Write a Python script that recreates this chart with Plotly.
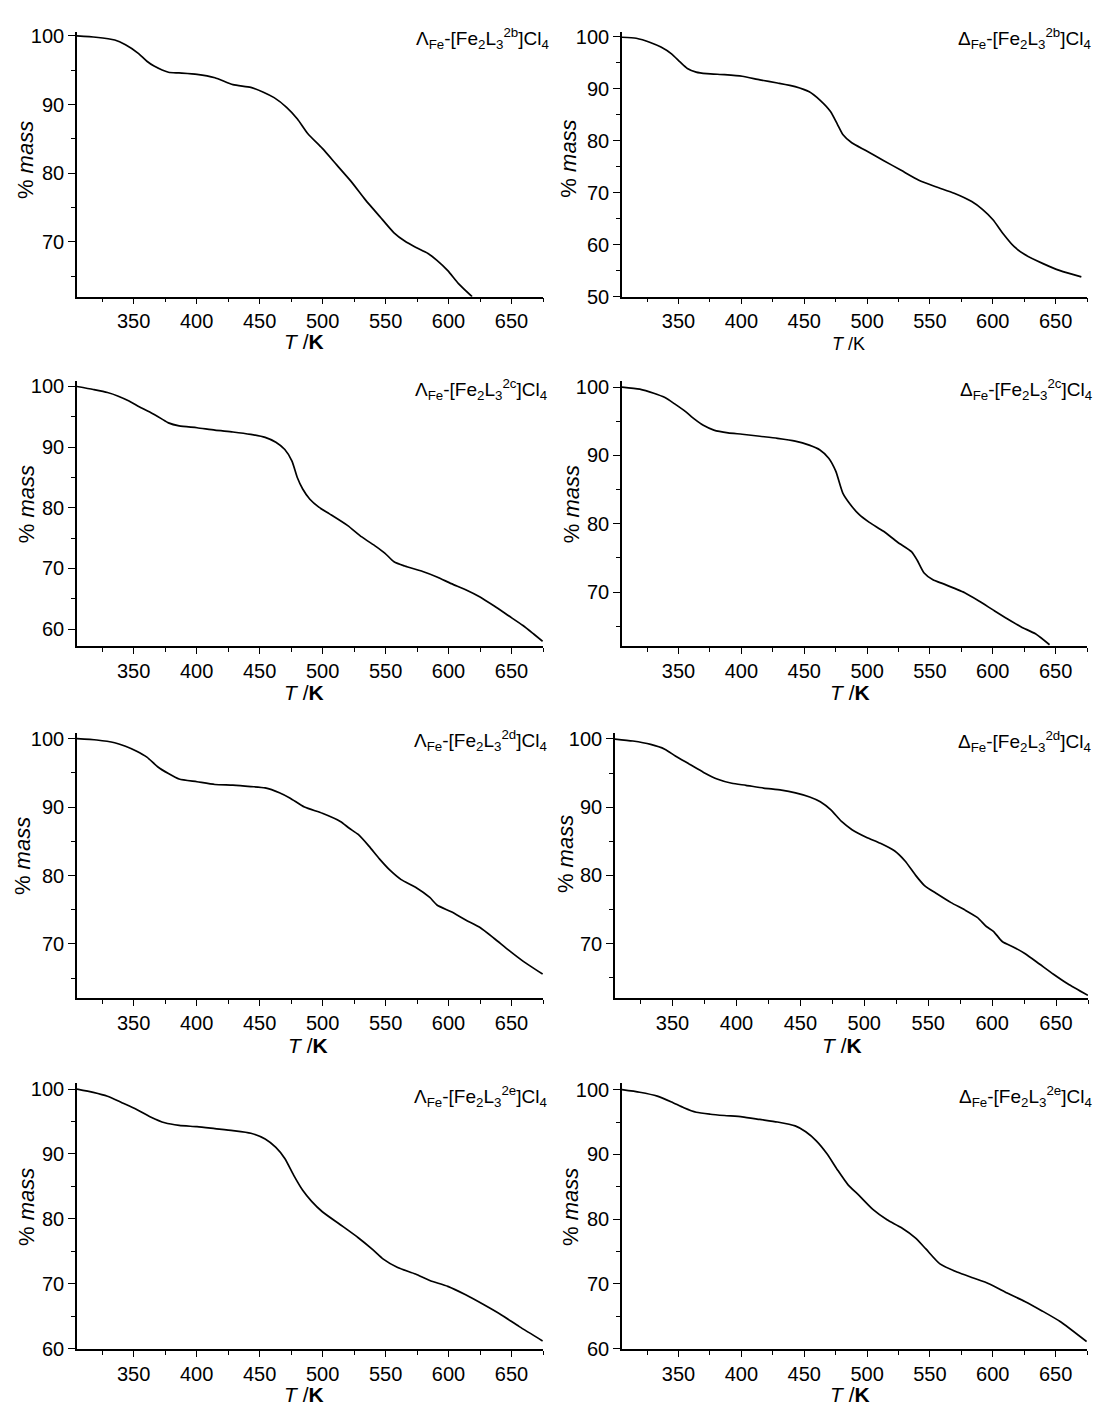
import plotly.graph_objects as go

# page is 1101x1414; the browser body has an 8px margin, so the figure is offset
PAGE_W, PAGE_H = 1101, 1414
OFF = 8
W, H = PAGE_W - OFF, PAGE_H - OFF

# ---------------- data ----------------
T_L2b = [305, 320, 335, 343.5, 353.4, 360.5, 366.2, 377.6, 386, 400.3, 414.5, 428.8, 443, 453, 461.5,
         471.4, 480, 488.5, 499.8, 511.2, 522.6, 534, 545.3, 556.7, 565.2, 573.8, 583.7, 590.8, 599.4,
         607.9, 618.7]
M_L2b = [100, 99.8, 99.4, 98.7, 97.5, 96.3, 95.6, 94.7, 94.6, 94.4, 93.9, 92.9, 92.5, 91.8, 91.0,
         89.6, 87.9, 85.7, 83.6, 81.2, 78.8, 76.1, 73.7, 71.3, 70.1, 69.2, 68.3, 67.3, 65.8,
         63.9, 62.0]

T_D2b = [305, 316.3, 327.5, 336, 344.4, 351.4, 357, 364, 372.5, 386.5, 400.6, 414.7, 428.7, 442.8,
         454, 462.5, 470.9, 476.5, 480.7, 487.8, 499, 513, 527.1, 541.2, 555.2, 569.3, 583.3, 591.8,
         600.2, 608.6, 617.1, 625.5, 639.6, 653.6, 670.5]
M_D2b = [99.9, 99.7, 98.9, 98.0, 96.7, 95.1, 93.9, 93.2, 92.9, 92.7, 92.4, 91.7, 91.1, 90.4,
         89.4, 87.8, 85.6, 83.1, 81.2, 79.6, 78.1, 76.2, 74.3, 72.4, 71.1, 69.9, 68.3, 66.8,
         64.8, 62.0, 59.6, 58.1, 56.4, 55.0, 53.8]

T_L2c = [305, 317.9, 329.2, 337.8, 346.3, 354.8, 363.4, 371.9, 377.6, 386.1, 400.3, 414.5, 428.8, 443,
         454.4, 462.9, 470, 475.7, 479.9, 484.2, 489.9, 497, 505.5, 519.7, 531.1, 542.5, 549.6, 556.7,
         565.2, 579.5, 590.8, 602.2, 613.6, 625, 636.3, 647.7, 659.1, 667.6, 674.7]
M_L2c = [100, 99.5, 99.0, 98.4, 97.6, 96.6, 95.7, 94.7, 94.0, 93.5, 93.2, 92.8, 92.5, 92.1,
         91.6, 90.8, 89.6, 87.7, 85.0, 83.1, 81.4, 80.1, 79.0, 77.1, 75.2, 73.6, 72.5, 71.1,
         70.4, 69.5, 68.6, 67.5, 66.5, 65.3, 63.8, 62.2, 60.6, 59.2, 58.0]

T_D2c = [305, 319.1, 330.3, 338.8, 347.2, 355.6, 362.7, 369.7, 378.1, 389.4, 400.6, 414.7, 428.7, 442.8,
         454, 462.5, 469.5, 475.1, 480.7, 486.4, 493.4, 501.8, 513.1, 524.3, 535.5, 539.8, 545.4, 552.4,
         560.9, 577.7, 589, 600.2, 611.5, 622.7, 634, 645.2]
M_D2c = [100, 99.7, 99.1, 98.5, 97.5, 96.4, 95.3, 94.4, 93.7, 93.3, 93.1, 92.8, 92.5, 92.1,
         91.5, 90.8, 89.6, 87.7, 84.5, 82.9, 81.4, 80.2, 78.9, 77.3, 75.9, 74.7, 72.8, 71.8,
         71.2, 69.9, 68.7, 67.4, 66.1, 64.9, 63.9, 62.3]

T_L2d = [305, 320.7, 334.9, 343.5, 352, 360.5, 369, 377.6, 386.1, 400.3, 414.5, 428.8, 443, 454.4,
         465.7, 474.3, 485.6, 499.8, 514.1, 521.2, 528.3, 536.8, 545.3, 553.9, 562.4, 573.8, 585.1,
         590.8, 602.2, 613.6, 625, 636.3, 647.7, 659.1, 674.7]
M_L2d = [100, 99.8, 99.4, 98.9, 98.2, 97.3, 95.9, 94.9, 94.1, 93.7, 93.3, 93.2, 93.0, 92.8,
         92.1, 91.3, 90.0, 89.1, 87.9, 86.9, 86.0, 84.3, 82.4, 80.7, 79.4, 78.3, 76.8,
         75.7, 74.7, 73.5, 72.4, 70.8, 69.1, 67.5, 65.6]

T_D2d = [304.4, 319, 332.9, 343.9, 352.2, 363.3, 374.3, 385.4, 396.4, 407.5, 421.3, 435.2, 446.2, 457.3,
         465.6, 473.9, 482.2, 490.4, 501.5, 512.6, 523.6, 531.9, 540.2, 547.1, 556.8, 567.9, 578.9,
         588.6, 595.5, 601, 607.9, 617.6, 625.9, 637, 648, 659.1, 674.9]
M_D2d = [100, 99.7, 99.2, 98.5, 97.5, 96.3, 95.1, 94.1, 93.5, 93.2, 92.8, 92.5, 92.1, 91.5,
         90.8, 89.6, 87.9, 86.7, 85.6, 84.7, 83.6, 82.1, 80.0, 78.5, 77.3, 76.0, 74.9,
         73.8, 72.5, 71.8, 70.3, 69.4, 68.5, 67.0, 65.5, 64.1, 62.4]

T_L2e = [305, 317.9, 329.2, 340.6, 352, 363.4, 374.7, 386.1, 400.3, 414.5, 428.8, 443, 454.4, 462.9,
         470, 477.1, 484.2, 491.3, 499.8, 514.1, 528.3, 539.6, 548.2, 559.6, 573.8, 585.1, 599.4,
         613.6, 627.8, 642, 656.2, 674.7]
M_L2e = [100, 99.5, 98.9, 97.9, 96.9, 95.7, 94.8, 94.4, 94.2, 93.9, 93.6, 93.2, 92.3, 91.0,
         89.3, 86.7, 84.4, 82.7, 81.1, 79.1, 77.1, 75.3, 73.8, 72.5, 71.5, 70.5, 69.6,
         68.3, 66.8, 65.2, 63.4, 61.2]

T_D2e = [305, 319.1, 333.1, 344.4, 354.2, 364.1, 375.3, 386.5, 400.6, 414.7, 428.7, 442.8, 451.2, 459.6,
         468.1, 476.5, 484.9, 493.4, 504.6, 515.9, 527.1, 538.4, 546.8, 558, 572.1, 583.3, 597.4,
         611.5, 625.5, 639.6, 653.6, 674.7]
M_D2e = [100, 99.6, 99.0, 98.1, 97.2, 96.5, 96.2, 96.0, 95.8, 95.4, 95.0, 94.4, 93.5, 92.1,
         90.1, 87.6, 85.3, 83.7, 81.5, 79.9, 78.7, 77.1, 75.4, 73.1, 71.8, 71.0, 70.0,
         68.6, 67.3, 65.8, 64.2, 61.1]

titles = [
    "Λ<sub>Fe</sub>-[Fe<sub>2</sub>L<sub>3</sub><sup>2b</sup>]Cl<sub>4</sub>",
    "Δ<sub>Fe</sub>-[Fe<sub>2</sub>L<sub>3</sub><sup>2b</sup>]Cl<sub>4</sub>",
    "Λ<sub>Fe</sub>-[Fe<sub>2</sub>L<sub>3</sub><sup>2c</sup>]Cl<sub>4</sub>",
    "Δ<sub>Fe</sub>-[Fe<sub>2</sub>L<sub>3</sub><sup>2c</sup>]Cl<sub>4</sub>",
    "Λ<sub>Fe</sub>-[Fe<sub>2</sub>L<sub>3</sub><sup>2d</sup>]Cl<sub>4</sub>",
    "Δ<sub>Fe</sub>-[Fe<sub>2</sub>L<sub>3</sub><sup>2d</sup>]Cl<sub>4</sub>",
    "Λ<sub>Fe</sub>-[Fe<sub>2</sub>L<sub>3</sub><sup>2e</sup>]Cl<sub>4</sub>",
    "Δ<sub>Fe</sub>-[Fe<sub>2</sub>L<sub>3</sub><sup>2e</sup>]Cl<sub>4</sub>",
]
y_title = "% <i>mass</i>"
x_title_bold = "<i>T</i> /<b>K</b>"
x_title_plain = "<i>T</i> /K"

series = [(T_L2b, M_L2b), (T_D2b, M_D2b), (T_L2c, M_L2c), (T_D2c, M_D2c),
          (T_L2d, M_L2d), (T_D2d, M_D2d), (T_L2e, M_L2e), (T_D2e, M_D2e)]
y_ranges = [[62.0, 100.6], [50, 100.95], [57.2, 100.86], [62.1, 100.85],
            [62.04, 100.87], [61.95, 100.92], [60, 100.91], [60, 101.0]]
x_range = [305, 675]

# ---------------- layout geometry (page pixels) ----------------
col_x = [[77, 543], [622, 1087], [77, 543], [622, 1087],
         [77, 543], [615, 1088], [77, 543], [622, 1087]]
row_y = [[25, 293.3], [25, 293.3], [379, 647.3], [379, 647.3],
         [735, 1004.2], [735, 1004.2], [1090, 1359], [1090, 1359]]
title_pos = [(550, 31.7), (1092, 31.7), (548, 387.5), (1093, 387.5),
             (548, 743), (1092, 744), (548, 1104), (1093, 1104)]
ytitle_pos = [(25, 155), (569, 153.5), (26, 503.5), (571, 503.5),
              (22, 860), (565, 858), (26, 1215.5), (570, 1215.5)]
xtitle_pos = [(304, 338.5), (848, 341), (304, 694.5), (850, 694.5),
              (308, 1051.5), (842, 1051.5), (304, 1405), (850, 1405)]

FONT = "Liberation Sans, Arial, Helvetica, sans-serif"


def px(x):
    return (x - OFF) / W


def py(y):
    return 1 - (y - OFF) / H


fig = go.Figure()
annotations = []
layout = {}
for i, (T, M) in enumerate(series):
    n = i + 1
    xa = "x" if n == 1 else f"x{n}"
    ya = "y" if n == 1 else f"y{n}"
    fig.add_trace(go.Scatter(x=T, y=M, mode="lines", xaxis=xa, yaxis=ya,
                             line=dict(color="black", width=1.7, shape="spline", smoothing=0.6),
                             showlegend=False, hoverinfo="skip"))
    common = dict(showline=True, linecolor="black", linewidth=1.6, mirror=False,
                  showgrid=False, zeroline=False, ticks="outside", ticklen=6, tickwidth=1.4,
                  tickcolor="black", tickfont=dict(family=FONT, size=20, color="black"))
    layout["xaxis" if n == 1 else f"xaxis{n}"] = dict(
        common, domain=[px(col_x[i][0]), px(col_x[i][1])], range=x_range,
        anchor=ya, tick0=0, dtick=50,
        minor=dict(dtick=25, ticks="outside", ticklen=4, tickwidth=1.4, tickcolor="black", showgrid=False))
    layout["yaxis" if n == 1 else f"yaxis{n}"] = dict(
        common, domain=[py(row_y[i][1]), py(row_y[i][0])], range=y_ranges[i],
        anchor=xa, tick0=0, dtick=10, ticklen=7,
        minor=dict(dtick=5, ticks="outside", ticklen=4, tickwidth=1.4, tickcolor="black", showgrid=False))
    tx, ty = title_pos[i]
    annotations.append(dict(text=titles[i], xref="paper", yref="paper", x=px(tx), y=py(ty),
                            xanchor="right", yanchor="middle", showarrow=False, borderpad=0,
                            font=dict(family=FONT, size=19, color="black")))
    yx, yy = ytitle_pos[i]
    annotations.append(dict(text=y_title, xref="paper", yref="paper", x=px(yx), y=py(yy),
                            xanchor="center", yanchor="middle", textangle=-90, showarrow=False,
                            borderpad=0, font=dict(family=FONT, size=22, color="black")))
    xx, xy = xtitle_pos[i]
    annotations.append(dict(text=x_title_plain if n == 2 else x_title_bold,
                            xref="paper", yref="paper", x=px(xx), y=py(xy),
                            xanchor="center", yanchor="middle", showarrow=False, borderpad=0,
                            font=dict(family=FONT, size=18 if n == 2 else 21, color="black")))

fig.update_layout(width=W, height=H, margin=dict(l=0, r=0, t=0, b=0),
                  paper_bgcolor="white", plot_bgcolor="white",
                  annotations=annotations, **layout)
fig.write_html("out.html")
